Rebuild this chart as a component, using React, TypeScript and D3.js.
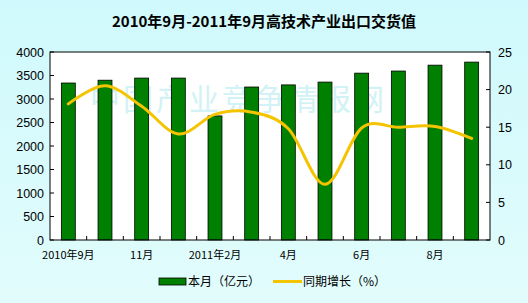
import React from "react";
import * as d3 from "d3";

const categories = ["2010年9月", "10月", "11月", "12月", "2011年2月", "3月", "4月", "5月", "6月", "7月", "8月", "9月"];
const shownLabels = ["2010年9月", "11月", "2011年2月", "4月", "6月", "8月"];
const monthValues = [3340, 3400, 3445, 3445, 2640, 3255, 3300, 3360, 3550, 3595, 3720, 3785];
const growthValues = [18.1, 20.5, 17.8, 14.1, 16.7, 17.0, 14.8, 7.4, 14.9, 15.0, 15.1, 13.5];
const leftTicks = [0, 500, 1000, 1500, 2000, 2500, 3000, 3500, 4000];
const rightTicks = [0, 5, 10, 15, 20, 25];

const W = 528, H = 303;
const L = 50, R = 490, T = 52, B = 240;

export default function App() {
  const x = d3.scaleBand<string>().domain(categories).range([L, R]).paddingInner(0).paddingOuter(0);
  const yL = d3.scaleLinear().domain([0, 4000]).range([B, T]);
  const yR = d3.scaleLinear().domain([0, 25]).range([B, T]);
  const bw = x.bandwidth() * 0.38;
  const line = d3.line<number>()
    .x((_, i) => (x(categories[i]) as number) + x.bandwidth() / 2)
    .y((d) => yR(d))
    .curve(d3.curveCardinal.tension(0));
  const numFont = "'Liberation Sans', Arial, sans-serif";
  const cjkFont = "'Noto Sans CJK SC', sans-serif";
  return (
    <svg width={W} height={H} style={{ position: "absolute", left: 0, top: 0 }}>
      <defs>
        <linearGradient id="bg" x1="0" y1="0" x2="0" y2="1">
          <stop offset="0" stopColor="#cff9fc" />
          <stop offset="1" stopColor="#e2fcfc" />
        </linearGradient>
      </defs>
      <rect x={0} y={0} width={W} height={H} fill="url(#bg)" />
      <text x={W / 2} y={27} textAnchor="middle" fontFamily={cjkFont} fontWeight="bold" fontSize={15} fill="#000">
        2010年9月-2011年9月高技术产业出口交货值
      </text>
      <rect x={L} y={T} width={R - L} height={B - T} fill="#fff" />
      <text x={90} y={110} fontFamily={cjkFont} fontSize={30} fill="#d2f2f5" letterSpacing={3}>
        中国产业竞争情报网
      </text>
      {monthValues.map((v, i) => (
        <rect key={i}
          x={(x(categories[i]) as number) + x.bandwidth() / 2 - bw / 2}
          y={yL(v)} width={bw} height={B - yL(v)}
          fill="#008000" stroke="#000" strokeWidth={0.8} />
      ))}
      <path d={line(growthValues) || ""} fill="none" stroke="#f5c400" strokeWidth={3} strokeLinejoin="round" strokeLinecap="round" />
      <rect x={L} y={T} width={R - L} height={B - T} fill="none" stroke="#000" strokeWidth={1} />
      {leftTicks.map((t) => (
        <g key={"l" + t}>
          <line x1={L} x2={L + 4} y1={yL(t)} y2={yL(t)} stroke="#000" />
          <text x={L - 6} y={yL(t) + 4.5} textAnchor="end" fontFamily={numFont} fontSize={12.5} fill="#000">{t}</text>
        </g>
      ))}
      {rightTicks.map((t) => (
        <g key={"r" + t}>
          <line x1={R - 4} x2={R} y1={yR(t)} y2={yR(t)} stroke="#000" />
          <text x={R + 8} y={yR(t) + 4.5} textAnchor="start" fontFamily={numFont} fontSize={12.5} fill="#000">{t}</text>
        </g>
      ))}
      {categories.slice(1).map((c) => (
        <line key={"xt" + c} x1={x(c) as number} x2={x(c) as number} y1={B} y2={B - 4} stroke="#000" />
      ))}
      {categories.map((c) => shownLabels.includes(c) ? (
        <text key={"xl" + c} x={(x(c) as number) + x.bandwidth() / 2} y={259} textAnchor="middle" fontFamily={cjkFont} fontSize={11} fill="#000">{c}</text>
      ) : null)}
      <rect x={159} y={278} width={27} height={7} fill="#008000" stroke="#000" strokeWidth={0.8} />
      <text x={188} y={286} fontFamily={cjkFont} fontSize={12} fill="#000">本月（亿元）</text>
      <line x1={273} x2={302} y1={281.5} y2={281.5} stroke="#f5c400" strokeWidth={3} />
      <text x={303} y={286} fontFamily={cjkFont} fontSize={12} fill="#000">同期增长（%）</text>
    </svg>
  );
}
